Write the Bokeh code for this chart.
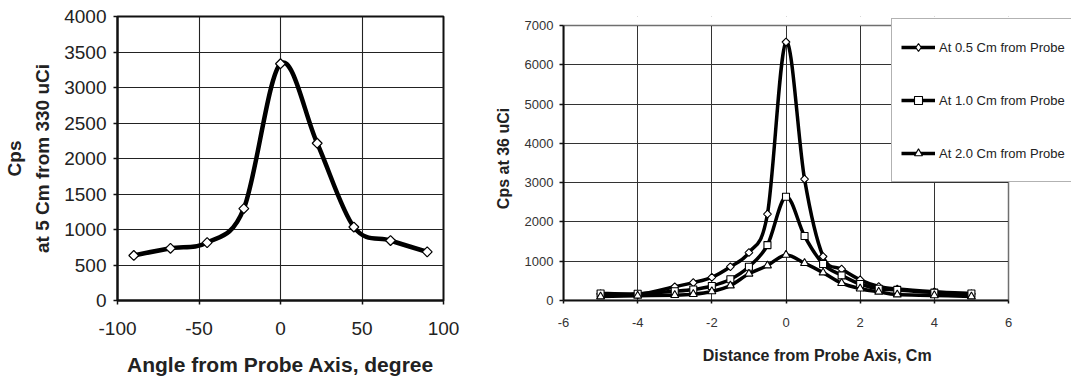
import numpy as np
from bokeh.plotting import figure
from bokeh.layouts import row
from bokeh.models import (Legend, LegendItem, ColumnDataSource, FixedTicker, Range1d,
                          CustomJSTickFormatter, BoxAnnotation)
from bokeh.embed import file_html
from bokeh.resources import INLINE

# ---------------- data ----------------
angle_deg = [-90, -67.5, -45, -22.5, 0, 22.5, 45, 67.5, 90]
cps_5cm = [634, 735, 815, 1295, 3335, 2215, 1035, 845, 685]

dist_cm = [-5, -4, -3, -2.5, -2, -1.5, -1, -0.5, 0, 0.5, 1, 1.5, 2, 2.5, 3, 4, 5]
cps_05 = [170, 150, 350, 455, 590, 860, 1220, 2200, 6580, 3090, 1120, 800, 525, 355, 290, 220, 170]
cps_10 = [180, 170, 235, 280, 370, 540, 860, 1410, 2640, 1640, 930, 640, 420, 300, 270, 200, 180]
cps_20 = [100, 120, 135, 160, 230, 380, 680, 890, 1160, 950, 710, 440, 300, 220, 150, 130, 100]

series_labels = ["At 0.5 Cm from Probe", "At 1.0 Cm from Probe", "At 2.0 Cm from Probe"]

left_xticks = [-100, -50, 0, 50, 100]
left_yticks = [0, 500, 1000, 1500, 2000, 2500, 3000, 3500, 4000]
right_xticks = [-6, -4, -2, 0, 2, 4, 6]
right_yticks = [0, 1000, 2000, 3000, 4000, 5000, 6000, 7000]

FONT = "Liberation Sans"

# layout (pixels)
TOP, BOTTOM_Y = 16, 300          # shared frame top / bottom (both figures)
R_TOP = 25                       # where 7000 sits on the right chart
R_LEFT, R_SIX, R_RIGHT = 563, 1008, 1071
W1 = 489
R_XMAX = right_xticks[-1] + (R_RIGHT - R_SIX) * (right_xticks[-1] - right_xticks[0]) / (R_SIX - R_LEFT)
R_YMAX = right_yticks[-1] * (BOTTOM_Y - TOP) / (BOTTOM_Y - R_TOP)


def smooth_source(xs, ys):
    """Bezier control points (Excel-style smoothed line) derived from the data."""
    n = len(xs)
    d = {k: [] for k in ("x0", "y0", "x1", "y1", "cx0", "cy0", "cx1", "cy1")}
    for i in range(n - 1):
        im1 = max(i - 1, 0)
        ip2 = min(i + 2, n - 1)
        d["x0"].append(xs[i]); d["y0"].append(ys[i])
        d["x1"].append(xs[i + 1]); d["y1"].append(ys[i + 1])
        d["cx0"].append(xs[i] + (xs[i + 1] - xs[im1]) / 6.0)
        d["cy0"].append(ys[i] + (ys[i + 1] - ys[im1]) / 6.0)
        d["cx1"].append(xs[i + 1] - (xs[ip2] - xs[i]) / 6.0)
        d["cy1"].append(ys[i + 1] - (ys[ip2] - ys[i]) / 6.0)
    return ColumnDataSource(d)


def style_axes(p, tick_size, title_size, tick_color):
    for ax in (p.xaxis, p.yaxis):
        ax.axis_line_color = "#111111"
        ax.axis_line_width = 2
        ax.major_tick_line_color = "#111111"
        ax.major_tick_line_width = 1.5
        ax.major_tick_in = 0
        ax.major_tick_out = 4
        ax.minor_tick_line_color = None
        ax.major_label_text_font = FONT
        ax.major_label_text_font_size = tick_size
        ax.major_label_text_color = tick_color
        ax.axis_label_text_font = FONT
        ax.axis_label_text_font_style = "bold"
        ax.axis_label_text_font_size = title_size
        ax.axis_label_text_color = "#222222"
        ax.formatter = CustomJSTickFormatter(code="return String(tick);")
    p.xgrid.grid_line_color = "#222222"
    p.ygrid.grid_line_color = "#222222"
    p.xgrid.grid_line_width = 1.1
    p.ygrid.grid_line_width = 1.1


# ---------------- left chart ----------------
p1 = figure(width=W1, height=379, x_range=Range1d(-100, 100), y_range=Range1d(0, 4000),
            output_backend="svg", toolbar_location=None,
            min_border_left=116, min_border_right=W1 - 443, min_border_top=TOP,
            min_border_bottom=79)
p1.xaxis.ticker = FixedTicker(ticks=left_xticks)
p1.yaxis.ticker = FixedTicker(ticks=left_yticks)
style_axes(p1, "19px", "21px", "#222222")
p1.outline_line_color = "#111111"
p1.outline_line_width = 2
p1.xaxis.axis_label = "Angle from Probe Axis, degree"
p1.yaxis.axis_label = "Cps\nat 5 Cm from 330 uCi"
p1.yaxis.axis_label_text_font_size = "19px"
p1.yaxis.axis_label_text_line_height = 1.35
p1.xaxis.major_label_standoff = 17
p1.xaxis.axis_label_standoff = 15
p1.yaxis.major_label_standoff = 7
p1.yaxis.axis_label_standoff = 8

p1.bezier(x0="x0", y0="y0", x1="x1", y1="y1", cx0="cx0", cy0="cy0", cx1="cx1", cy1="cy1",
          source=smooth_source(angle_deg, cps_5cm), line_color="black", line_width=4.5,
          line_cap="round")
p1.scatter(angle_deg, cps_5cm, marker="square", angle=np.pi / 4, size=7,
           fill_color="white", line_color="black", line_width=1.2)

# ---------------- right chart ----------------
# frame runs to the window edge so that the legend can overhang the plot border
p2 = figure(width=R_RIGHT - W1, height=379, x_range=Range1d(-6, R_XMAX),
            y_range=Range1d(0, R_YMAX),
            output_backend="svg", toolbar_location=None,
            min_border_left=R_LEFT - W1, min_border_right=0, min_border_top=TOP,
            min_border_bottom=79)
p2.xaxis.ticker = FixedTicker(ticks=right_xticks)
p2.yaxis.ticker = FixedTicker(ticks=right_yticks)
style_axes(p2, "13px", "16px", "#333333")
p2.outline_line_color = None
p2.xaxis.bounds = (right_xticks[0], right_xticks[-1])
p2.yaxis.bounds = (right_yticks[0], right_yticks[-1])
p2.xgrid.grid_line_color = "#333333"
p2.ygrid.grid_line_color = "#333333"
p2.xgrid.grid_line_width = 1
p2.ygrid.grid_line_width = 1
p2.xaxis.axis_label = "Distance from Probe Axis, Cm"
p2.yaxis.axis_label = "Cps at 36 uCi"
p2.xaxis.major_tick_out = 3
p2.xaxis.major_label_standoff = 14
p2.xaxis.axis_label_standoff = 17
p2.yaxis.major_label_standoff = 6
p2.yaxis.axis_label_standoff = 10

# blank the areas outside the plot border
p2.add_layout(BoxAnnotation(left=right_xticks[-1], fill_color="white", fill_alpha=1.0,
                            line_color=None, level="underlay"))
p2.add_layout(BoxAnnotation(bottom=right_yticks[-1], fill_color="white", fill_alpha=1.0,
                            line_color=None, level="underlay"))

series = [cps_05, cps_10, cps_20]
markers = [("square", np.pi / 4, 5.5), ("square", 0, 7), ("triangle", 0, 8)]
for ys in series:
    p2.bezier(x0="x0", y0="y0", x1="x1", y1="y1", cx0="cx0", cy0="cy0", cx1="cx1", cy1="cy1",
              source=smooth_source(dist_cm, ys), line_color="black", line_width=3.5,
              line_cap="round")

items = []
for k, (ys, (mk, ang, sz), lab) in enumerate(zip(series, markers, series_labels)):
    sc = p2.scatter(dist_cm, ys, marker=mk, angle=ang, size=sz,
                    fill_color="white", line_color="black", line_width=1.1)
    leg_line = p2.line(x=[float("nan")], y=[float("nan")], line_color="black", line_width=3.5)
    if k == 0:
        leg_mark = p2.scatter(x=[float("nan")], y=[float("nan")], marker="diamond", size=9,
                              fill_color="white", line_color="black", line_width=1.1)
    else:
        leg_mark = sc
    items.append(LegendItem(label=lab, renderers=[leg_line, leg_mark]))

# plot-area border (top and right sides of the box)
p2.add_layout(BoxAnnotation(left=right_xticks[0], right=right_xticks[-1],
                            bottom=right_yticks[0], top=right_yticks[-1],
                            fill_alpha=0.0, line_color="#111111", line_width=2))

legend = Legend(items=items, location=(R_SIX - R_LEFT - 117, 118), orientation="vertical",
                border_line_color="#666666", border_line_width=1,
                background_fill_color="white", background_fill_alpha=1.0,
                padding=9, spacing=15, margin=0,
                glyph_width=34, glyph_height=20, label_height=38, label_standoff=4,
                label_text_font=FONT, label_text_font_size="13px",
                label_text_color="#222222")
p2.add_layout(legend)

layout = row(p1, p2)
open("out.html", "w").write(file_html(layout, INLINE))
